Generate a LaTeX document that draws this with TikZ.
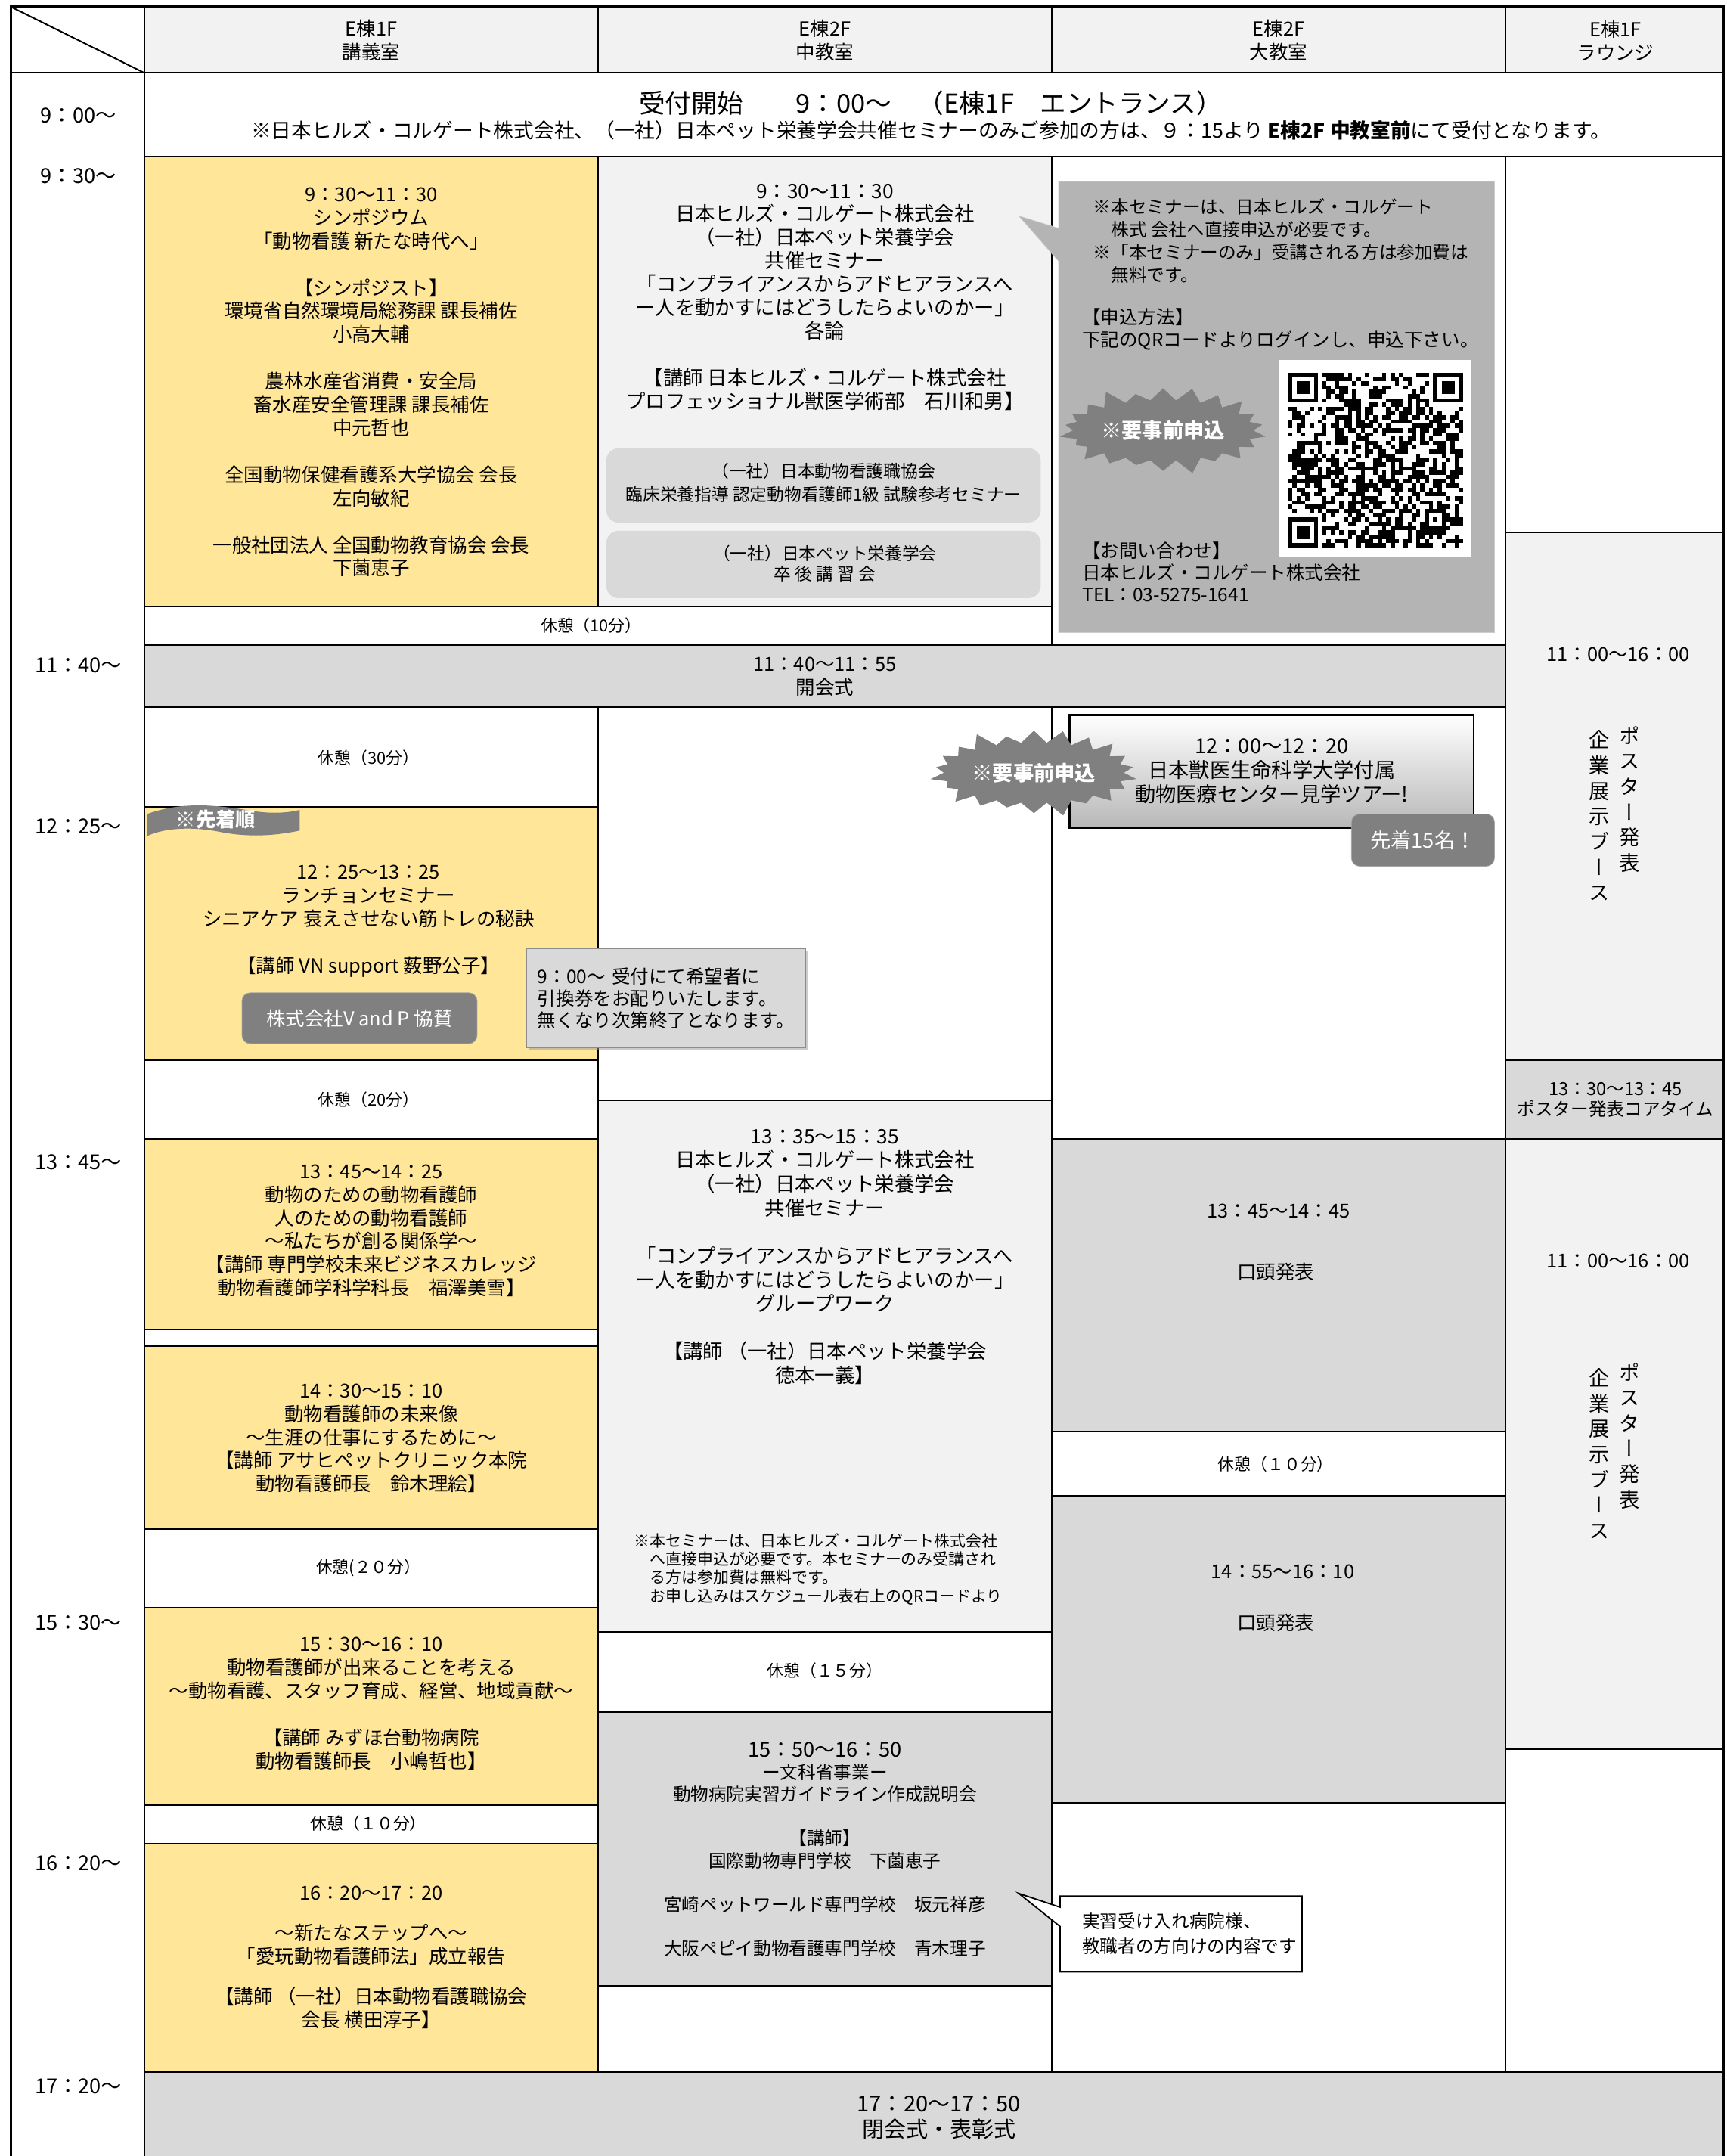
\documentclass[tikz,border=0pt]{standalone}
\usepackage{fontspec}
\setmainfont{Noto Sans CJK JP}
\newfontfamily\vjp[RawFeature=+vert]{Noto Sans CJK JP}
\usepackage{tikz}
\usetikzlibrary{shapes.symbols,shadows}
\definecolor{yel}{HTML}{FFE699}
\definecolor{lgrey}{HTML}{F2F2F2}
\definecolor{mgrey}{HTML}{D9D9D9}
\definecolor{pgrey}{HTML}{B4B4B4}
\definecolor{dgrey}{HTML}{808080}
\newcommand\fsz[2]{\fontsize{#1}{#2}\selectfont}

\begin{document}
\begin{tikzpicture}[x=1pt,y=-1pt,
  cell/.style={draw=black,line width=1.1pt},
  txt/.style={align=center,inner sep=0pt,font=\fsz{14}{17}},
  brk/.style={inner sep=0pt,font=\fsz{12}{14}},
  hour/.style={inner sep=0pt,font=\fsz{15}{17}},
  tag/.style={fill=dgrey,draw=black!35,text=white,rounded corners=6pt,inner sep=0pt},
  burst/.style={starburst,fill=dgrey,draw=none,starburst points=22,starburst point height=12pt,
    minimum width=155pt,minimum height=68pt,text=white,font=\fsz{15}{17}\bfseries,inner sep=0pt},
  vert/.style={align=center,anchor=north,inner sep=0pt,font=\vjp\fsz{15}{18.5}}]
\useasboundingbox (0,0) rectangle (1256,1568);

\draw[cell] (8,5) rectangle (105,53);
\draw[cell] (8,5) -- (105,53);
\foreach \xa/\xb in {105/435,435/765,765/1095,1095/1254}
  \draw[cell,fill=lgrey] (\xa,5) rectangle (\xb,53);
\draw[cell] (105,53) rectangle (1254,114);

\foreach \xa/\ya/\xb/\yb in {105/441/765/469, 105/514/435/587, 105/771/435/828, 105/967/435/979,
    105/1112/435/1169, 105/1313/435/1341, 435/514/765/800, 435/1187/765/1245, 435/1444/765/1507,
    765/114/1095/469, 765/514/1095/828, 765/1041/1095/1088, 765/1311/1095/1507,
    1095/114/1254/387, 1095/1272/1254/1507}
  \draw[cell,fill=white] (\xa,\ya) rectangle (\xb,\yb);
\foreach \xa/\ya/\xb/\yb in {105/114/435/441, 105/587/435/771, 105/828/435/967, 105/979/435/1112,
    105/1169/435/1313, 105/1341/435/1507}
  \draw[cell,fill=yel] (\xa,\ya) rectangle (\xb,\yb);
\foreach \xa/\ya/\xb/\yb in {435/114/765/441, 435/800/765/1187, 1095/387/1254/771, 1095/828/1254/1272}
  \draw[cell,fill=lgrey] (\xa,\ya) rectangle (\xb,\yb);
\foreach \xa/\ya/\xb/\yb in {105/469/1095/514, 765/828/1095/1041, 765/1088/1095/1311,
    1095/771/1254/828, 435/1245/765/1444, 105/1507/1254/1580}
  \draw[cell,fill=mgrey] (\xa,\ya) rectangle (\xb,\yb);

\draw[line width=2pt] (8,1568) -- (8,5) -- (1254,5) -- (1254,1568);

\fill[mgrey,rounded corners=9pt] (441,326) rectangle (757,380);
\fill[mgrey,rounded corners=9pt] (441,386) rectangle (757,435);

\draw[pgrey,fill=pgrey,draw=black!20] (770,132) -- (1087,132) -- (1087,460) -- (770,460)
  -- (770,190) -- (741,157) -- (770,166) -- cycle;
\fill[white] (930,262) rectangle (1070,405);
\pgfmathsetseed{11}
\begin{scope}[shift={(937,271)},x=3.1pt,y=-3.1pt]
  \foreach \i in {0,...,40}
    \foreach \j in {0,...,40}{
      \pgfmathtruncatemacro\bit{rnd<0.5}
      \ifnum\bit=1 \fill (\i,\j) rectangle ++(1,1);\fi
    }
  \foreach \fx/\fy in {0/0,34/0,0/34}{
    \fill[white] (\fx-1,\fy-1) rectangle ++(9,9);
    \fill (\fx,\fy) rectangle ++(7,7);
    \fill[white] (\fx+1,\fy+1) rectangle ++(5,5);
    \fill (\fx+2,\fy+2) rectangle ++(3,3);
  }
  \fill (32,32) rectangle ++(5,5);
  \fill[white] (33,33) rectangle ++(3,3);
  \fill (34,34) rectangle ++(1,1);
\end{scope}
\node[burst] (applyA) at (846,313) {※要事前申込};

\draw[line width=1.3pt,top color=white,bottom color=black!28] (778,520) rectangle (1072,602);
\node[txt,font=\fsz{15}{17.5}] (tour) at (925,561) {12：00〜12：20\\日本獣医生命科学大学付属\\動物医療センター見学ツアー!};
\node[burst] (applyB) at (752,562) {※要事前申込};
\node[tag,minimum width=104pt,minimum height=38pt,font=\fsz{15}{17}] (first15) at (1035,611) {先着15名！};

\fill[dgrey] (107,592) .. controls (135,582) and (160,586) .. (185,590)
  .. controls (200,592) and (210,591) .. (218,589) -- (218,604)
  .. controls (200,608) and (180,609) .. (160,605)
  .. controls (140,601) and (120,602) .. (107,608) -- cycle;
\node[font=\fsz{14.5}{16}\bfseries,text=white,inner sep=0pt] (firstcome) at (157,596) {※先着順};
\node[tag,minimum width=171pt,minimum height=37pt,font=\fsz{14}{16}] (sponsor) at (261.5,740.5) {株式会社V and P 協賛};
\node[draw=black!45,fill=mgrey,drop shadow={shadow xshift=2pt,shadow yshift=-2pt,fill=black!40},
  minimum width=203pt,minimum height=72pt,text width=187pt,inner xsep=8pt,align=left,
  font=\fsz{13.5}{16}] (ticket) at (484.5,726) {9：00〜 受付にて希望者に\\引換券をお配りいたします。\\無くなり次第終了となります。};

\draw[fill=white,line width=1pt] (771,1379) -- (947,1379) -- (947,1434) -- (771,1434)
  -- (771,1401) -- (741,1377) -- (771,1387) -- cycle;
\node[align=left,anchor=north west,inner sep=0pt,font=\fsz{13}{18}] (hospnote) at (787,1391) {実習受け入れ病院様、\\教職者の方向けの内容です};

\foreach \t/\y in {9：00〜/84, 9：30〜/128, 11：40〜/484, 12：25〜/601, 13：45〜/845, 15：30〜/1180, 16：20〜/1355, 17：20〜/1517}
  \node[hour] (t\y) at (57,\y) {\t};

\node[txt] (hA) at (270,29.5) {E棟1F\\講義室};
\node[txt] (hB) at (600,29.5) {E棟2F\\中教室};
\node[txt] (hC) at (930,29.5) {E棟2F\\大教室};
\node[txt] (hD) at (1175,29.5) {E棟1F\\ラウンジ};

\node[inner sep=0pt,font=\fsz{19}{22}] (reg) at (677,75) {受付開始　　9：00〜　（E棟1F　エントランス）};
\node[inner sep=0pt,font=\fsz{14.7}{17}] (regnote) at (677,95) {※日本ヒルズ・コルゲート株式会社、（一社）日本ペット栄養学会共催セミナーのみご参加の方は、９：15より \textbf{E棟2F 中教室前}にて受付となります。};

\node[txt] (sympo) at (270,278) {9：30〜11：30\\シンポジウム\\「動物看護 新たな時代へ」\\[17pt]
  【シンポジスト】\\環境省自然環境局総務課 課長補佐\\小高大輔\\[17pt]
  農林水産省消費・安全局\\畜水産安全管理課 課長補佐\\中元哲也\\[17pt]
  全国動物保健看護系大学協会 会長\\左向敏紀\\[17pt]
  一般社団法人 全国動物教育協会 会長\\下薗恵子};
\node[txt,font=\fsz{14.5}{17}] (hillsA) at (600,216) {9：30〜11：30\\日本ヒルズ・コルゲート株式会社\\（一社）日本ペット栄養学会\\共催セミナー\\
  「コンプライアンスからアドヒアランスへ\\ー人を動かすにはどうしたらよいのかー」\\各論\\[17pt]
  【講師 日本ヒルズ・コルゲート株式会社\\プロフェッショナル獣医学術部　石川和男】};
\node[txt,font=\fsz{12.5}{17}] (jvna) at (599,351) {（一社）日本動物看護職協会\\臨床栄養指導 認定動物看護師1級 試験参考セミナー};
\node[txt,font=\fsz{12.5}{15}] (jpns) at (600,410) {（一社）日本ペット栄養学会\\卒 後 講 習 会};
\node[inner sep=0pt,align=left,anchor=north west,font=\fsz{13}{16.5}] (applyinfo) at (795,144)
  {※本セミナーは、日本ヒルズ・コルゲート\\　株式 会社へ直接申込が必要です。\\※「本セミナーのみ」受講される方は参加費は\\　無料です。};
\node[inner sep=0pt,align=left,anchor=north west,font=\fsz{13.5}{16.5}] (howto) at (787,224)
  {【申込方法】\\下記のQRコードよりログインし、申込下さい。};
\node[inner sep=0pt,align=left,anchor=north west,font=\fsz{13.5}{16}] (contact) at (787,394)
  {【お問い合わせ】\\日本ヒルズ・コルゲート株式会社\\TEL：03-5275-1641};

\node[brk] (brkA) at (430,455) {休憩（10分）};
\node[txt] (open) at (600,492) {11：40〜11：55\\開会式};
\node[brk] (brkB) at (268,551) {休憩（30分）};
\node[txt] (lunch) at (268,670) {12：25〜13：25\\ランチョンセミナー\\シニアケア 衰えさせない筋トレの秘訣\\[17pt]【講師 VN support 薮野公子】};
\node[brk] (brkC) at (268,800) {休憩（20分）};
\node[txt] (lecA) at (270,895) {13：45〜14：25\\動物のための動物看護師\\人のための動物看護師\\〜私たちが創る関係学〜\\【講師 専門学校未来ビジネスカレッジ\\動物看護師学科学科長　福澤美雪】};
\node[txt] (lecB) at (270,1046) {14：30〜15：10\\動物看護師の未来像\\〜生涯の仕事にするために〜\\【講師 アサヒペットクリニック本院\\動物看護師長　鈴木理絵】};
\node[brk] (brkD) at (268,1140) {休憩(２０分）};
\node[txt] (lecC) at (270,1239) {15：30〜16：10\\動物看護師が出来ることを考える\\〜動物看護、スタッフ育成、経営、地域貢献〜\\[17pt]【講師 みずほ台動物病院\\動物看護師長　小嶋哲也】};
\node[brk] (brkE) at (268,1326) {休憩（１０分）};
\node[txt] (lecDt) at (270,1377) {16：20〜17：20};
\node[txt] (lecD) at (270,1414.5) {〜新たなステップへ〜\\「愛玩動物看護師法」成立報告};
\node[txt] (lecDs) at (270,1460.5) {【講師 （一社）日本動物看護職協会\\会長 横田淳子】};

\node[txt,font=\fsz{14.5}{17.5}] (hillsB) at (600,914) {13：35〜15：35\\日本ヒルズ・コルゲート株式会社\\（一社）日本ペット栄養学会\\共催セミナー\\[17pt]
  「コンプライアンスからアドヒアランスへ\\ー人を動かすにはどうしたらよいのかー」\\グループワーク\\[17pt]
  【講師 （一社）日本ペット栄養学会\\徳本一義】};
\node[inner sep=0pt,align=left,anchor=north west,font=\fsz{11.5}{13.3}] (hillsnote) at (461,1115)
  {※本セミナーは、日本ヒルズ・コルゲート株式会社\\　へ直接申込が必要です。本セミナーのみ受講され\\　る方は参加費は無料です。\\　お申し込みはスケジュール表右上のQRコードより};
\node[brk] (brkF) at (600,1215) {休憩（１５分）};
\node[txt,font=\fsz{13}{16}] (mext) at (600,1345) {{\fsz{15}{16}15：50〜16：50}\\ー文科省事業ー\\動物病院実習ガイドライン作成説明会\\[16pt]
  【講師】\\国際動物専門学校　下薗恵子\\[16pt]宮崎ペットワールド専門学校　坂元祥彦\\[16pt]大阪ペピイ動物看護専門学校　青木理子};

\node[txt] (oralA) at (930,881) {13：45〜14：45};
\node[txt] (oralAt) at (928,925) {口頭発表};
\node[brk] (brkG) at (928,1065) {休憩（１０分）};
\node[txt] (oralB) at (933,1143) {14：55〜16：10};
\node[txt] (oralBt) at (928,1180) {口頭発表};

\node[txt] (loungeA) at (1177,476) {11：00〜16：00};
\node[vert] (posterA) at (1185,528) {ポ\\ス\\タ\\ー\\発\\表};
\node[vert] (boothA) at (1163,531) {企\\業\\展\\示\\ブ\\ー\\ス};
\node[txt,font=\fsz{13}{15}] (core) at (1175,800) {13：30〜13：45\\ポスター発表コアタイム};
\node[txt] (loungeB) at (1177,917) {11：00〜16：00};
\node[vert] (posterB) at (1185,991) {ポ\\ス\\タ\\ー\\発\\表};
\node[vert] (boothB) at (1163,995) {企\\業\\展\\示\\ブ\\ー\\ス};

\node[txt,font=\fsz{16}{19}] (close) at (683,1540) {17：20〜17：50\\閉会式・表彰式};
\end{tikzpicture}
\end{document}
